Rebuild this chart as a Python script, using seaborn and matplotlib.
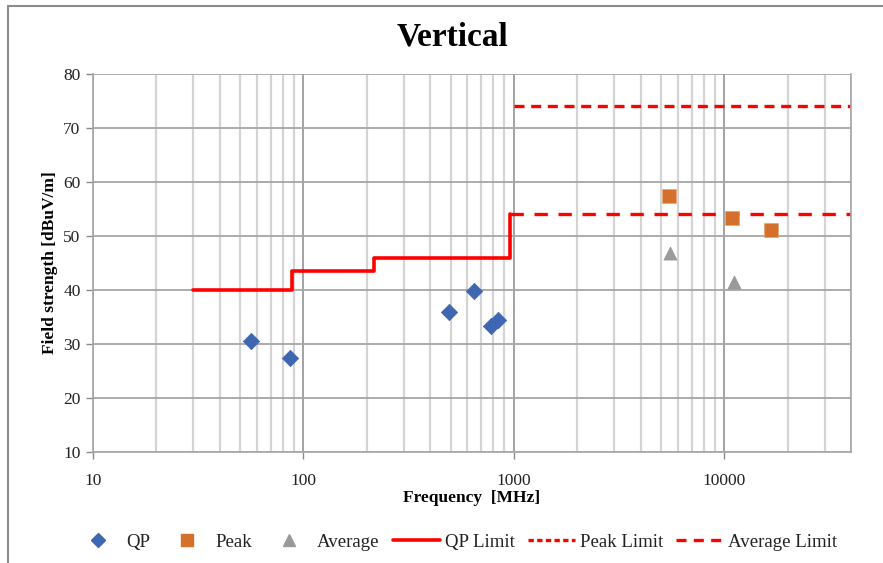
import matplotlib
matplotlib.use("Agg")
import matplotlib.pyplot as plt
from matplotlib.lines import Line2D
from matplotlib.ticker import LogLocator, FixedLocator, NullFormatter, FuncFormatter
import seaborn as sns

# Measured emissions
qp_freq = [56.5, 86, 490, 645, 777, 840]
qp_level = [30.6, 27.5, 36.0, 39.8, 33.4, 34.5]
peak_freq = [5450, 10900, 16600]
peak_level = [57.5, 53.3, 51.1]
avg_freq = [5500, 11100]
avg_level = [46.9, 41.5]

# Limit lines
qp_limit_freq = [30, 88, 216, 960]
qp_limit_level = [40, 43.5, 46, 54]
peak_limit_freq = [1000, 40000]
peak_limit_level = [74, 74]
avg_limit_freq = [960, 40000]
avg_limit_level = [54, 54]

x_ticks = [10, 100, 1000, 10000]
y_ticks = [10, 20, 30, 40, 50, 60, 70, 80]

sns.set_theme(style="white")
plt.rcParams["font.family"] = ["Liberation Serif", "DejaVu Serif"]

fig = plt.figure(figsize=(8.83, 5.63), dpi=100)
ax = fig.add_axes([93 / 883, 1 - 452 / 563, (851 - 93) / 883, (452 - 74) / 563])

# Outer chart frame (top and left edges visible)
fig.add_artist(Line2D([8 / 883, 1.0], [1 - 6 / 563, 1 - 6 / 563], transform=fig.transFigure,
                      color="#8c8c8c", lw=1.5))
fig.add_artist(Line2D([8 / 883, 8 / 883], [0.0, 1 - 6 / 563], transform=fig.transFigure,
                      color="#8c8c8c", lw=1.5))

ax.set_xscale("log")
ax.set_xlim(10, 40000)
ax.set_ylim(10, 80)

# Grid
ax.xaxis.set_major_locator(FixedLocator(x_ticks))
ax.xaxis.set_minor_locator(LogLocator(base=10, subs=range(2, 10), numticks=20))
ax.xaxis.set_major_formatter(FuncFormatter(lambda v, p: f"{int(v)}"))
ax.xaxis.set_minor_formatter(NullFormatter())
ax.yaxis.set_major_locator(FixedLocator(y_ticks))
ax.grid(which="major", axis="x", color="#8a8a8a", lw=1.1)
ax.grid(which="minor", axis="x", color="#d4d4d4", lw=1.6)
ax.grid(which="major", axis="y", color="#a6a6a6", lw=1.3)
ax.set_axisbelow(True)
for s in ax.spines.values():
    s.set_color("#a6a6a6")
    s.set_linewidth(1.2)
ax.spines["top"].set_visible(False)
ax.tick_params(axis="both", which="major", direction="out", length=5, width=1,
               color="#8a8a8a", labelsize=12.5, pad=4, left=True, bottom=True,
               labelcolor="#222222")
ax.tick_params(axis="x", which="minor", length=0)
ax.tick_params(axis="x", which="major", pad=10)

# Limit lines
sns.lineplot(x=qp_limit_freq, y=qp_limit_level, ax=ax, color="#ff0000", lw=2.6,
             drawstyle="steps-post", label="QP Limit", legend=False)
sns.lineplot(x=peak_limit_freq, y=peak_limit_level, ax=ax, color="#ff0000", lw=2.4,
             linestyle=(0, (3, 2.0)), label="Peak Limit", legend=False)
sns.lineplot(x=avg_limit_freq, y=avg_limit_level, ax=ax, color="#ff0000", lw=2.4,
             linestyle=(0, (4.0, 3.2)), label="Average Limit", legend=False)

# Measured points
sns.scatterplot(x=qp_freq, y=qp_level, ax=ax, marker="D", s=70, color="#3f67b1",
                edgecolor="#3f67b1", linewidth=0.5, zorder=5, legend=False)
sns.scatterplot(x=peak_freq, y=peak_level, ax=ax, marker="s", s=110, color="#d4702b",
                edgecolor="#e8a77c", linewidth=0.6, zorder=5, legend=False)
sns.scatterplot(x=avg_freq, y=avg_level, ax=ax, marker="^", s=90, color="#9a9a9a",
                edgecolor="#9a9a9a", linewidth=0.5, zorder=5, legend=False)

fig.text(452 / 883, 1 - 37 / 563, "Vertical", fontsize=24, fontweight="bold",
         ha="center", va="center", color="black")
ax.set_xlabel("Frequency  [MHz]", fontsize=12.5, fontweight="bold", labelpad=1,
              color="black")
ax.set_ylabel("Field strength [dBuV/m]", fontsize=12.5, fontweight="bold", labelpad=4,
              color="black")

handles = [
    Line2D([], [], marker="D", color="#3f67b1", ls="none", markersize=7),
    Line2D([], [], marker="s", color="#d4702b", ls="none", markersize=9),
    Line2D([], [], marker="^", color="#9a9a9a", ls="none", markersize=9),
    Line2D([], [], color="#ff0000", lw=2.6),
    Line2D([], [], color="#ff0000", lw=2.4, ls=(0, (1.6, 1.0))),
    Line2D([], [], color="#ff0000", lw=2.4, ls=(0, (3.0, 2.2))),
]
labels = ["QP", "Peak", "Average", "QP Limit", "Peak Limit", "Average Limit"]
fig.legend(handles, labels, loc="center", bbox_to_anchor=(0.516, 1 - 542 / 563), ncol=6,
           frameon=False, fontsize=13.6, handlelength=2.5, handletextpad=0.25,
           columnspacing=0.7, labelcolor="#222222")

fig.savefig("out.png", dpi=100)
